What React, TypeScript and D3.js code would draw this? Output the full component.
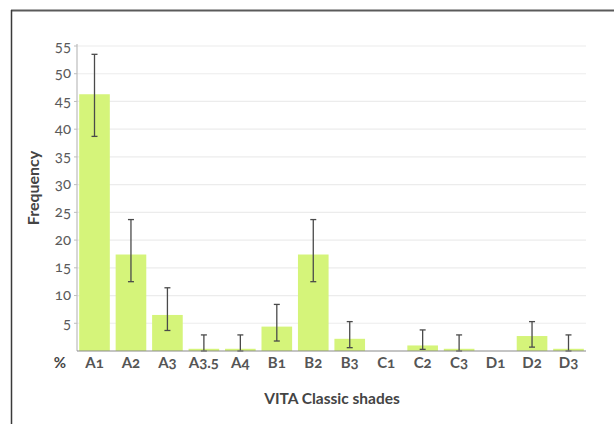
import React from "react";
import * as d3 from "d3";

const categories = ["A1", "A2", "A3", "A3.5", "A4", "B1", "B2", "B3", "C1", "C2", "C3", "D1", "D2", "D3"];
const values = [46.3, 17.4, 6.5, 0.4, 0.4, 4.4, 17.4, 2.2, 0, 1.0, 0.4, 0, 2.7, 0.4];
const errLow = [38.7, 12.5, 3.7, 0, 0, 1.8, 12.5, 0.6, null, 0.3, 0, null, 0.7, 0];
const errHigh = [53.5, 23.7, 11.4, 2.9, 2.9, 8.4, 23.7, 5.3, null, 3.8, 2.9, null, 5.3, 2.9];
const yTicks = [5, 10, 15, 20, 25, 30, 35, 40, 45, 50, 55];

const W = 614;
const H = 424;
const FONT = "Lato, 'Open Sans', sans-serif";
const OS: React.CSSProperties = { fontVariantNumeric: "oldstyle-nums", fontFeatureSettings: "'onum' 1" };

export default function App() {
  const x = d3.scaleBand<string>().domain(categories).range([77, 586]).paddingInner(0.16).paddingOuter(0.06);
  const y = d3.scaleLinear().domain([0, 55]).range([351, 46]);
  const bw = x.bandwidth();
  return (
    <svg width={W} height={H} style={{ position: "absolute", left: 0, top: 0, background: "#fff" }}>
      <line x1={11} x2={W} y1={10.5} y2={10.5} stroke="#5a5a5a" strokeWidth={2} />
      <line x1={11.5} x2={11.5} y1={10} y2={H} stroke="#3a3a3a" strokeWidth={1.5} />
      {yTicks.map((t) => (
        <line key={"g" + t} x1={77} x2={586} y1={y(t)} y2={y(t)} stroke="#ececec" strokeWidth={1.2} />
      ))}
      {categories.map((c, i) => (
        values[i] > 0 ? (
          <rect key={"b" + c} x={x(c)} y={y(values[i])} width={bw} height={y(0) - y(values[i])} fill="#d5f47a" />
        ) : null
      ))}
      {categories.map((c, i) => {
        const lo = errLow[i];
        const hi = errHigh[i];
        if (lo === null || hi === null) return null;
        const cx = (x(c) as number) + bw / 2;
        return (
          <g key={"e" + c} stroke="#4a4a4a" strokeWidth={1.3}>
            <line x1={cx} x2={cx} y1={y(lo)} y2={y(hi)} />
            <line x1={cx - 3} x2={cx + 3} y1={y(hi)} y2={y(hi)} />
            <line x1={cx - 3} x2={cx + 3} y1={y(lo)} y2={y(lo)} />
          </g>
        );
      })}
      <line x1={77} x2={77} y1={44} y2={351} stroke="#bdbdbd" strokeWidth={1.2} />
      <line x1={77} x2={586} y1={351} y2={351} stroke="#8a8a8a" strokeWidth={1.2} />
      {yTicks.map((t) => (
        <g key={"t" + t}>
          <line x1={74} x2={77} y1={y(t)} y2={y(t)} stroke="#bdbdbd" />
          <text x={71} y={y(t)} dy="0.3em" textAnchor="end" fontFamily={FONT} fontSize={15} fill="#5a5a5a" style={OS}>
            {t}
          </text>
        </g>
      ))}
      {categories.map((c) => (
        <text key={"x" + c} x={(x(c) as number) + bw / 2} y={368} textAnchor="middle" fontFamily={FONT} fontSize={15} fontWeight={700} fill="#555" style={OS}>
          {c}
        </text>
      ))}
      <text x={60} y={368} textAnchor="middle" fontFamily={FONT} fontSize={15} fontWeight={700} fill="#444">%</text>
      <text transform={`translate(39,188) rotate(-90)`} textAnchor="middle" fontFamily={FONT} fontSize={16} fontWeight={700} fill="#444">
        Frequency
      </text>
      <text x={332} y={404} textAnchor="middle" fontFamily={FONT} fontSize={15.5} fontWeight={700} fill="#444">
        VITA Classic shades
      </text>
    </svg>
  );
}
